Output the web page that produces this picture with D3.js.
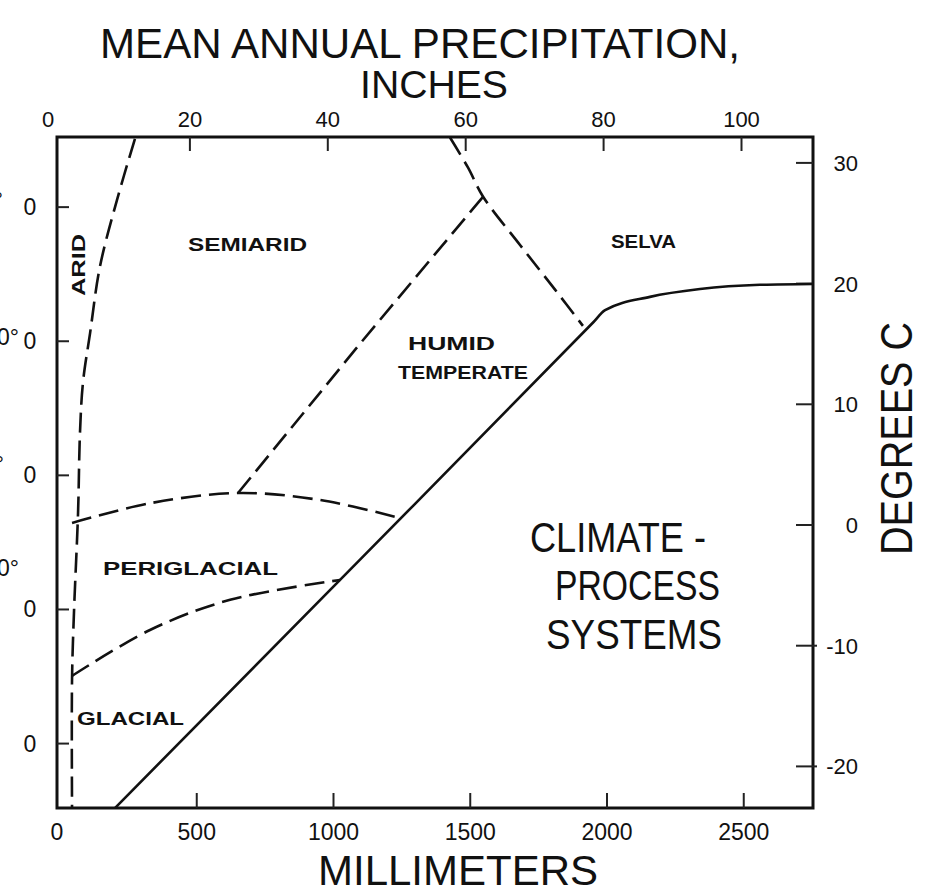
<!DOCTYPE html>
<html><head><meta charset="utf-8">
<script src="https://cdn.jsdelivr.net/npm/d3@7"></script>
<style>body{margin:0;background:#fff}svg{display:block}</style>
</head><body><svg id="c" width="936" height="895"></svg>
<script>
// ---- data (precipitation in mm, temperature in degrees C) ----
const mmTicks = [0, 500, 1000, 1500, 2000, 2500];
const mmTickText = ["0", "500", "1000", "1500", "2000", "2500"];
const inchTicks = [0, 20, 40, 60, 80, 100];
const inchTickText = ["0", "20", "40", "60", "80", "100"];
const degCTicks = [30, 20, 10, 0, -10, -20];
const degCTickText = ["30", "20", "10", "0", "-10", "-20"];
const degFTicks = [80, 60, 40, 20, 0];
const degFTickText = ["0", "0", "0", "0", "0"];
const outerFragments = ["°", "0°", "°", "0°"];

const aridBoundary = [[274,32.0],[208,26.9],[146,21.4],[110,15.9],[84,11.8],[73,7.6],[66,1.0],[51,-7.3],[44,-12.8],[44,-23.4]];
const selvaBoundary = [[1426,32.1],[1492,29.6],[1547,27.2],[1682,23.2],[1810,19.5],[1912,16.5]];
const semiaridBoundary = [[651,2.65],[1100,15.1],[1547,27.2]];
const periglacialUpper = [[44,0.17],[329,1.8],[651,2.65],[951,2.07],[1243,0.58]];
const glacialUpper = [[44,-12.5],[329,-8.7],[622,-6.2],[1024,-4.56]];
const humidLimit = [[201,-23.45],[1097,-2.87],[1950,16.8],[1993,17.8],[2157,18.9],[2340,19.55],[2559,19.9],[2753,19.97]];

const svg = d3.select("#c");
const font = "'Liberation Sans', Arial, sans-serif";
const L = 57, R = 813, T = 137, B = 808;

const x = d3.scaleLinear().domain([0, 2500]).range([60, 743.75]);
const xIn = d3.scaleLinear().domain([0, 100]).range([52, 741.5]);
const y = d3.scaleLinear().domain([0, 30]).range([525, 162.9]);
const fToC = f => (f - 32) * 5 / 9;

const g = svg.append("g");
// frame
g.append("rect").attr("x", L).attr("y", T).attr("width", R - L).attr("height", B - T)
  .attr("fill", "none").attr("stroke", "#111").attr("stroke-width", 3);

// bottom ticks (mm)
mmTicks.forEach((v, i) => {
  if (v > 0) g.append("line").attr("x1", x(v)).attr("x2", x(v)).attr("y1", B).attr("y2", B - 15).attr("stroke", "#222").attr("stroke-width", 2);
  g.append("text").attr("x", x(v) - (v === 0 ? 3 : 0)).attr("y", 840).attr("text-anchor", "middle")
    .attr("font-family", font).attr("font-size", 23).attr("fill", "#111").text(mmTickText[i]);
});
// top ticks (inches)
inchTicks.forEach((v, i) => {
  if (v > 0) g.append("line").attr("x1", xIn(v)).attr("x2", xIn(v)).attr("y1", T).attr("y2", T + 14).attr("stroke", "#222").attr("stroke-width", 2);
  g.append("text").attr("x", xIn(v) - (v === 0 ? 4 : 0)).attr("y", 127).attr("text-anchor", "middle")
    .attr("font-family", font).attr("font-size", 22).attr("fill", "#111").text(inchTickText[i]);
});
// right ticks (deg C)
degCTicks.forEach((v, i) => {
  const yy = y(v);
  g.append("line").attr("x1", R - 17).attr("x2", R + (v < 0 ? 4 : 0)).attr("y1", yy).attr("y2", yy).attr("stroke", "#222").attr("stroke-width", 2);
  g.append("text").attr("x", 858).attr("y", yy + 8).attr("text-anchor", "end")
    .attr("font-family", font).attr("font-size", 22).attr("fill", "#111").text(degCTickText[i]);
});
// left ticks (deg F)
degFTicks.forEach((v, i) => {
  const yy = y(fToC(v)) + 4;
  g.append("line").attr("x1", L).attr("x2", L + 12).attr("y1", yy).attr("y2", yy).attr("stroke", "#222").attr("stroke-width", 2);
  g.append("text").attr("x", 30).attr("y", yy + 8).attr("text-anchor", "middle")
    .attr("font-family", font).attr("font-size", 23).attr("fill", "#111").text(degFTickText[i]);
});
// outer labels, cut off at the left edge as in the original
const fragPos = [[3, 208], [19, 345], [4, 472], [19, 576]];
outerFragments.forEach((t, i) => {
  g.append("text").attr("x", fragPos[i][0]).attr("y", fragPos[i][1]).attr("text-anchor", "end")
    .attr("font-family", font).attr("font-size", 23).attr("fill", "#111").text(t);
});

// boundaries
const line = d3.line().x(d => x(d[0])).y(d => y(d[1]));
const dashed = (data, curve) => g.append("path").datum(data)
  .attr("d", line.curve(curve)).attr("fill", "none").attr("stroke", "#111")
  .attr("stroke-width", 2.6).attr("stroke-dasharray", "20,8");
dashed(aridBoundary, d3.curveCatmullRom);
dashed(selvaBoundary, d3.curveCatmullRom);
dashed(semiaridBoundary, d3.curveLinear);
dashed(periglacialUpper, d3.curveCatmullRom);
dashed(glacialUpper, d3.curveCatmullRom);
g.append("path").datum(humidLimit).attr("d", line.curve(d3.curveMonotoneX))
  .attr("fill", "none").attr("stroke", "#111").attr("stroke-width", 2.6);

// region labels
const labels = [
  {t: "SEMIARID", x: 188, y: 250.5, w: 119},
  {t: "SELVA", x: 611, y: 247.5, w: 65},
  {t: "HUMID", x: 408, y: 349.5, w: 87},
  {t: "TEMPERATE", x: 398, y: 378.5, w: 130},
  {t: "PERIGLACIAL", x: 103, y: 574.5, w: 175},
  {t: "GLACIAL", x: 77, y: 724.5, w: 107}
];
labels.forEach(d => g.append("text").attr("x", d.x).attr("y", d.y)
  .attr("font-family", font).attr("font-weight", "bold").attr("font-size", 18)
  .attr("textLength", d.w).attr("lengthAdjust", "spacingAndGlyphs").attr("fill", "#111").text(d.t));
g.append("text").attr("transform", "translate(84.5,265) rotate(-90)").attr("text-anchor", "middle")
  .attr("font-family", font).attr("font-weight", "bold").attr("font-size", 18)
  .attr("textLength", 62).attr("lengthAdjust", "spacingAndGlyphs").attr("fill", "#111").text("ARID");

const big = [
  {t: "CLIMATE -", x: 530, y: 552, w: 176},
  {t: "PROCESS", x: 555, y: 600, w: 165},
  {t: "SYSTEMS", x: 546, y: 649, w: 176}
];
big.forEach(d => g.append("text").attr("x", d.x).attr("y", d.y)
  .attr("font-family", font).attr("font-size", 43)
  .attr("textLength", d.w).attr("lengthAdjust", "spacingAndGlyphs").attr("fill", "#111").text(d.t));

// axis titles
const title = (t, x0, y0, w, size) => g.append("text").attr("x", x0).attr("y", y0)
  .attr("font-family", font).attr("font-size", size).attr("textLength", w)
  .attr("lengthAdjust", "spacingAndGlyphs").attr("fill", "#111").text(t);
title("MEAN ANNUAL PRECIPITATION,", 100, 58, 640, 42);
title("INCHES", 360, 98, 148, 38);
title("MILLIMETERS", 318, 885, 280, 42);
g.append("text").attr("transform", "translate(912,555) rotate(-90)")
  .attr("font-family", font).attr("font-size", 44).attr("textLength", 233)
  .attr("lengthAdjust", "spacingAndGlyphs").attr("fill", "#111").text("DEGREES C");
</script></body></html>
